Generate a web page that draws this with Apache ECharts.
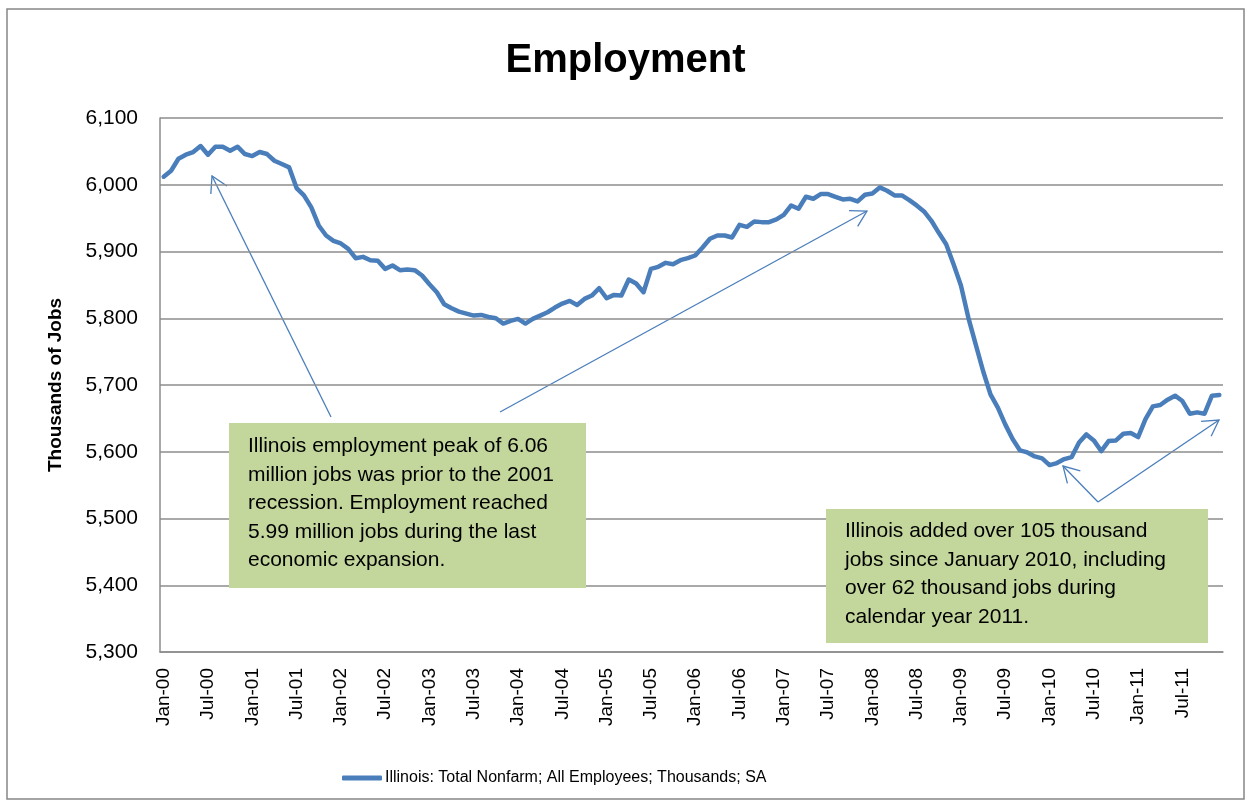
<!DOCTYPE html>
<html>
<head>
<meta charset="utf-8">
<script src="https://cdn.jsdelivr.net/npm/echarts@6/dist/echarts.min.js"></script>
<style>
  html, body { margin: 0; padding: 0; background: #fff; }
  #chart { width: 1251px; height: 806px; }
</style>
</head>
<body>
<div id="chart"></div>
<script>
// monthly Illinois nonfarm employment, thousands
const months = ['Jan', 'Feb', 'Mar', 'Apr', 'May', 'Jun', 'Jul', 'Aug', 'Sep', 'Oct', 'Nov', 'Dec'];
const years = ['00', '01', '02', '03', '04', '05', '06', '07', '08', '09', '10', '11'];

const y2000 = [6012, 6021, 6039, 6045, 6049, 6058, 6045, 6057, 6057, 6051, 6057, 6046];
const y2001 = [6043, 6049, 6046, 6036, 6031, 6026, 5995, 5984, 5966, 5939, 5924, 5916];
const y2002 = [5912, 5904, 5890, 5892, 5887, 5886, 5874, 5879, 5872, 5873, 5872, 5864];
const y2003 = [5851, 5839, 5821, 5815, 5810, 5807, 5804, 5805, 5802, 5800, 5792, 5796];
const y2004 = [5799, 5792, 5799, 5804, 5809, 5816, 5822, 5826, 5820, 5829, 5834, 5845];
const y2005 = [5830, 5835, 5834, 5858, 5852, 5839, 5874, 5877, 5883, 5881, 5887, 5890];
const y2006 = [5894, 5906, 5919, 5924, 5924, 5921, 5940, 5937, 5945, 5944, 5944, 5948];
const y2007 = [5955, 5969, 5964, 5982, 5979, 5986, 5986, 5982, 5978, 5979, 5975, 5985];
const y2008 = [5987, 5996, 5991, 5984, 5984, 5977, 5969, 5960, 5946, 5928, 5911, 5881];
const y2009 = [5849, 5801, 5761, 5721, 5686, 5666, 5641, 5619, 5602, 5599, 5593, 5590];
const y2010 = [5580, 5583, 5589, 5592, 5614, 5626, 5617, 5601, 5616, 5617, 5627, 5628];
const y2011 = [5622, 5649, 5668, 5670, 5678, 5684, 5676, 5657, 5659, 5657, 5684, 5685];

const yTicks = [5300, 5400, 5500, 5600, 5700, 5800, 5900, 6000, 6100];

const seriesName = 'Illinois: Total Nonfarm; All Employees; Thousands; SA';
const note1 = [
    'Illinois employment peak of 6.06',
    'million jobs was prior to the 2001',
    'recession. Employment reached',
    '5.99 million jobs during the last',
    'economic expansion.'
];
const note2 = [
    'Illinois added over 105 thousand',
    'jobs since January 2010, including',
    'over 62 thousand jobs during',
    'calendar year 2011.'
];

const categories = [];
years.forEach(y => months.forEach(m => categories.push(m + '-' + y)));
const values = [].concat(y2000, y2001, y2002, y2003, y2004, y2005,
    y2006, y2007, y2008, y2009, y2010, y2011);

const blue = '#4a7ebb';
const gridGray = '#8c8c8c';
const boxGreen = '#c3d69b';

function arrow(x1, y1, x2, y2) {
    const a = Math.atan2(y1 - y2, x1 - x2);
    const L = 18, t = Math.PI / 6;
    return [{
        type: 'line',
        shape: { x1: x1, y1: y1, x2: x2, y2: y2 },
        style: { stroke: blue, lineWidth: 1.3 }
    }, {
        type: 'polyline',
        shape: {
            points: [
                [x2 + L * Math.cos(a + t), y2 + L * Math.sin(a + t)],
                [x2, y2],
                [x2 + L * Math.cos(a - t), y2 + L * Math.sin(a - t)]
            ]
        },
        style: { stroke: blue, fill: null, lineWidth: 1.3 }
    }];
}

function noteBox(x, y, w, h, lines, tx, ty) {
    return [{
        type: 'rect',
        shape: { x: x, y: y, width: w, height: h },
        style: { fill: boxGreen },
        z: 10
    }, {
        type: 'text',
        x: tx,
        y: ty,
        style: {
            text: lines.join('\n'),
            font: '21px "Liberation Sans", Arial, sans-serif',
            fill: '#000',
            lineHeight: 28.5
        },
        z: 11
    }];
}

const chart = echarts.init(document.getElementById('chart'));

const option = {
    backgroundColor: '#fff',
    animation: false,
    title: {
        text: 'Employment',
        left: 'center',
        top: 36,
        textStyle: {
            fontFamily: '"Liberation Sans", Arial, sans-serif',
            fontSize: 40,
            fontWeight: 'bold',
            color: '#000'
        }
    },
    grid: { left: 160, right: 28, top: 118, bottom: 154 },
    legend: {
        data: [seriesName],
        top: 765,
        left: 337,
        icon: 'roundRect',
        itemWidth: 40,
        itemHeight: 5,
        itemGap: 4,
        textStyle: {
            fontFamily: '"Liberation Sans", Arial, sans-serif',
            fontSize: 16,
            padding: [0, 0, 0, -2],
            color: '#000'
        }
    },
    xAxis: {
        type: 'category',
        data: categories,
        boundaryGap: true,
        axisLine: { lineStyle: { color: gridGray, width: 1.5 } },
        axisTick: { show: false },
        axisLabel: {
            interval: 5,
            rotate: 90,
            margin: 16,
            color: '#000',
            fontFamily: '"Liberation Sans", Arial, sans-serif',
            fontSize: 19
        },
        splitLine: { show: false }
    },
    yAxis: {
        type: 'value',
        min: yTicks[0],
        max: yTicks[yTicks.length - 1],
        interval: 100,
        name: 'Thousands of Jobs',
        nameLocation: 'middle',
        nameGap: 95,
        nameTextStyle: {
            fontFamily: '"Liberation Sans", Arial, sans-serif',
            fontSize: 19,
            fontWeight: 'bold',
            color: '#000'
        },
        axisLine: { show: true, lineStyle: { color: gridGray, width: 1.5 } },
        axisTick: { show: false },
        axisLabel: {
            margin: 22,
            color: '#000',
            fontFamily: '"Liberation Sans", Arial, sans-serif',
            fontSize: 21,
            formatter: v => v.toLocaleString('en-US')
        },
        splitLine: { lineStyle: { color: gridGray, width: 1.5 } }
    },
    series: [{
        name: seriesName,
        type: 'line',
        data: values,
        symbol: 'none',
        lineStyle: { color: blue, width: 4.5, cap: 'round', join: 'round' },
        itemStyle: { color: blue },
        z: 3
    }],
    graphic: [
        {
            type: 'rect',
            shape: { x: 7, y: 9, width: 1237, height: 790 },
            style: { fill: null, stroke: '#868686', lineWidth: 1.5 },
            silent: true
        },
        ...arrow(331, 417, 212, 176),
        ...arrow(500, 412, 867, 211),
        ...arrow(1098, 502, 1063, 466),
        ...arrow(1098, 502, 1219, 420),
        ...noteBox(229, 423, 357, 165, note1, 248, 432),
        ...noteBox(826, 509, 382, 134, note2, 845, 517)
    ]
};

chart.setOption(option);
</script>
</body>
</html>
